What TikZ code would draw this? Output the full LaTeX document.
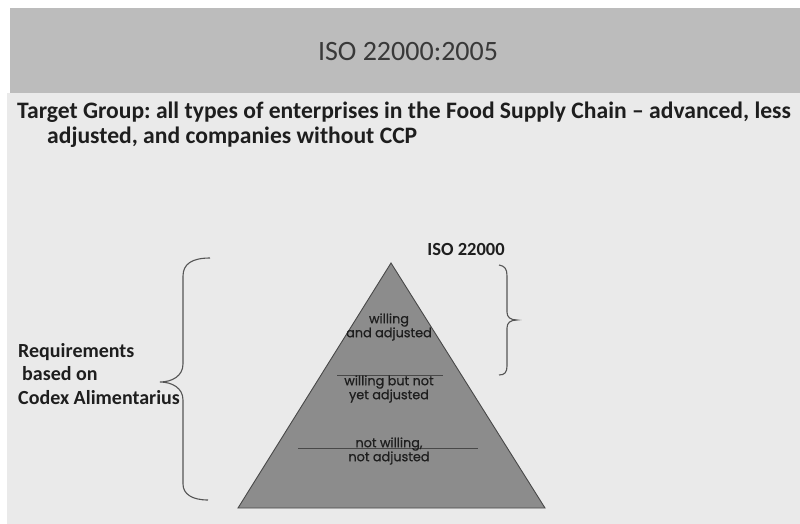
\documentclass[tikz,border=0pt]{standalone}
\usepackage{fontspec}
\setmainfont{Carlito}
\newfontfamily\geo[FakeBold=0.7]{Poppins}
\frenchspacing
\definecolor{bandc}{HTML}{BCBCBC}
\definecolor{pagec}{HTML}{EAEAEA}
\definecolor{pyrc}{HTML}{8C8C8C}
\definecolor{edgec}{HTML}{484848}
\definecolor{inkc}{HTML}{1E1E1E}
\definecolor{bracec}{HTML}{555555}
\tikzset{
  slidetitle/.style={text=inkc!88, inner sep=0pt, font=\fontsize{28}{31}\selectfont},
  bodytext/.style={text=inkc, inner sep=0pt, anchor=base west, font=\bfseries\fontsize{23.6}{27}\selectfont},
  sidetext/.style={text=inkc, inner sep=0pt, anchor=base west, font=\bfseries\fontsize{20}{23}\selectfont},
  isotext/.style={text=inkc, inner sep=0pt, font=\bfseries\fontsize{18.5}{22}\selectfont},
  layertext/.style={text=inkc, inner sep=0pt, align=center, font=\geo\fontsize{12.8}{14}\selectfont},
  divider/.style={draw=edgec, line width=0.9pt},
  bracepath/.style={draw=bracec, line width=1.1pt}
}
\begin{document}
\begin{tikzpicture}[x=1pt,y=-1pt]
\useasboundingbox (0,0) rectangle (800,524);
\fill[white] (0,0) rectangle (800,524);
\fill[pagec] (7,93) rectangle (800,524);
\fill[bandc] (10,8) rectangle (800,93);
\node[slidetitle] (title) at (408,52) {ISO 22000:2005};
\node[bodytext] (tg1) at (17,118) {Target Group: all types of enterprises in the Food Supply Chain -- advanced, less};
\node[bodytext] (tg2) at (47,143) {adjusted, and companies without CCP};
% pyramid
\coordinate (apex) at (391,263);
\coordinate (bl) at (238,508);
\coordinate (br) at (545,508);
\filldraw[fill=pyrc, draw=edgec, line width=0.9pt] (apex) -- (br) -- (bl) -- cycle;
\coordinate (d1a) at (337,375); \coordinate (d1b) at (443,375);
\coordinate (d2a) at (298,448); \coordinate (d2b) at (478,448);
\draw[divider] (d1a) -- (d1b);
\draw[divider] (d2a) -- (d2b);
\node[layertext] (top) at (389,327) {willing\\and adjusted};
\node[layertext] (mid) at (389,389) {willing but not\\yet adjusted};
\node[layertext] (bot) at (389,451) {not willing,\\not adjusted};
\node[isotext] (iso) at (466,249) {ISO 22000};
% right brace
\draw[bracepath] (499,265) .. controls (505,266) and (507,269) .. (507,276) -- (507,312) .. controls (507,317) and (510,320) .. (517,320) .. controls (510,320) and (507,323) .. (507,328) -- (507,366) .. controls (507,372) and (505,375) .. (499,375);
% left brace
\draw[bracepath] (210,258) .. controls (192,258) and (183,264) .. (183,276) -- (183,364) .. controls (183,376) and (172,382) .. (160,382) .. controls (172,382) and (183,388) .. (183,400) -- (183,484) .. controls (183,494) and (192,500) .. (208,500);
\node[sidetext] (req1) at (18,357) {Requirements};
\node[sidetext] (req2) at (22,380) {based on};
\node[sidetext] (req3) at (18,404) {Codex Alimentarius};
\end{tikzpicture}
\end{document}
